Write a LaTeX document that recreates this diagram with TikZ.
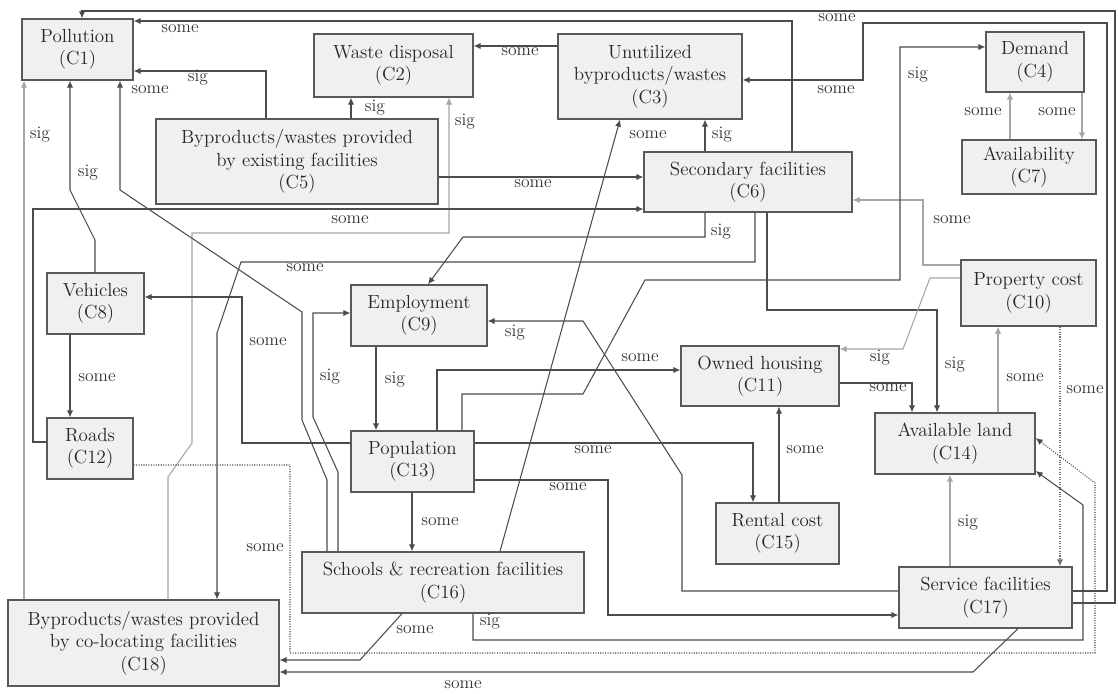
\documentclass[tikz,border=0pt]{standalone}
\usetikzlibrary{arrows.meta}

\tikzset{
  box/.style={draw=black!65, line width=0.9pt, fill=black!6, align=center,
    inner sep=0pt, font=\rmfamily\fontsize{13.5}{16}\selectfont, text=black!85},
  boxw/.style={minimum width=#1*0.025cm},
  boxh/.style={minimum height=#1*0.025cm},
  link/.style={draw=black!70, line width=0.75pt, -{Latex[length=5pt,width=4.5pt]}},
  faint/.style={link, draw=black!35},
  dotlink/.style={link, densely dotted},
  lbl/.style={font=\rmfamily\fontsize{12.5}{15}\selectfont, text=black!80, inner sep=1pt},
}

\begin{document}
\begin{tikzpicture}[x=0.025cm, y=-0.025cm]
\useasboundingbox (0,0) rectangle (1118,694);

% concept boxes
\node[box, boxw=111, boxh=61] (c1) at (77.5,49.5) {Pollution\\(C1)};
\node[box, boxw=159, boxh=63] (c2) at (393.5,65.5) {Waste disposal\\(C2)};
\node[box, boxw=184, boxh=85] (c3) at (650,76.5) {Unutilized\\byproducts/wastes\\(C3)};
\node[box, boxw=98, boxh=60] (c4) at (1035,62) {Demand\\(C4)};
\node[box, boxw=282, boxh=85] (c5) at (297,161.5) {Byproducts/wastes provided\\by existing facilities\\(C5)};
\node[box, boxw=208, boxh=60] (c6) at (748,182) {Secondary facilities\\(C6)};
\node[box, boxw=134, boxh=54] (c7) at (1029,167) {Availability\\(C7)};
\node[box, boxw=97, boxh=61] (c8) at (95.5,303.5) {Vehicles\\(C8)};
\node[box, boxw=136, boxh=61] (c9) at (419,315.5) {Employment\\(C9)};
\node[box, boxw=135, boxh=66] (c10) at (1028.5,293) {Property cost\\(C10)};
\node[box, boxw=158, boxh=60] (c11) at (760,376) {Owned housing\\(C11)};
\node[box, boxw=86, boxh=61] (c12) at (90,448.5) {Roads\\(C12)};
\node[box, boxw=123, boxh=61] (c13) at (412.5,461.5) {Population\\(C13)};
\node[box, boxw=160, boxh=61] (c14) at (955,443.5) {Available land\\(C14)};
\node[box, boxw=123, boxh=61] (c15) at (777.5,533.5) {Rental cost\\(C15)};
\node[box, boxw=282, boxh=61] (c16) at (443,582.5) {Schools \& recreation facilities\\(C16)};
\node[box, boxw=173, boxh=61] (c17) at (985.5,597.5) {Service facilities\\(C17)};
\node[box, boxw=271, boxh=86] (c18) at (143.5,643) {Byproducts/wastes provided\\by co-locating facilities\\(C18)};

% long loops round the top and the right side
\draw[link] (c17.east |- 0,603) -- (1115,603) -- (1115,11) -- (82,11) -- (c1.north -| 82,0);
\node[lbl] (l1) at (837,18) {some};
\draw[link] (c17.east |- 0,591) -- (1107,591) -- (1107,23) -- (863,23) -- (863,80) -- (c3.east |- 0,80);
\node[lbl] (l2) at (836,90) {some};
\draw[link] (c6.north -| 792,0) -- (792,21) -- (c1.east |- 0,21);
\node[lbl] (l3) at (180,29) {some};

% into pollution and waste disposal
\draw[link] (c3.west |- 0,46) -- (c2.east |- 0,46);
\node[lbl] (l4) at (520,52) {some};
\draw[link] (c5.north -| 266,0) -- (266,71) -- (c1.east |- 0,71);
\node[lbl] (l5) at (198,78) {sig};
\draw[link] (c5.north -| 351,0) -- (c2.south -| 351,0);
\node[lbl] (l6) at (375,108) {sig};
\draw[faint] (c18.north -| 168,0) -- (168,477) -- (192,443) -- (192,233) -- (449,233) -- (c2.south -| 449,0);
\node[lbl] (l7) at (465,122) {sig};
\draw[link] (c16.north -| 327,0) -- (327,480) -- (302,420) -- (302,312) -- (120,190) -- (c1.south -| 120,0);
\node[lbl] (l8) at (150,90) {some};
\draw[link] (c8.north -| 95,0) -- (95,240) -- (70,190) -- (c1.south -| 70,0);
\node[lbl] (l9) at (88,173) {sig};
\draw[faint] (c18.north -| 24,0) -- (c1.south -| 24,0);
\node[lbl] (l10) at (40,135) {sig};

% secondary facilities
\draw[link] (c12.west |- 0,442) -- (33,442) -- (33,209) -- (c6.west |- 0,209);
\node[lbl] (l11) at (350,220) {some};
\draw[link] (c5.east |- 0,177) -- (c6.west |- 0,177);
\node[lbl] (l12) at (533,184) {some};
\draw[link] (c6.south -| 705,0) -- (705,237) -- (463,237) -- (c9.north -| 428,0);
\node[lbl] (l13) at (721,232) {sig};
\draw[link] (c6.south -| 755,0) -- (755,262) -- (241,262) -- (217,333) -- (c18.north -| 217,0);
\node[lbl] (l14) at (305,268) {some};
\draw[link] (c6.north -| 705,0) -- (c3.south -| 705,0);
\node[lbl] (l15) at (722,135) {sig};
\draw[link] (c16.north -| 500,0) -- (c3.south -| 620,0);
\node[lbl] (l16) at (648,135) {some};
\draw[faint] (c10.west |- 0,265) -- (923,265) -- (923,200) -- (c6.east |- 0,200);
\node[lbl] (l17) at (952,220) {some};
\draw[link] (c6.south -| 767,0) -- (767,310) -- (937,310) -- (c14.north -| 937,0);
\node[lbl] (l18) at (955,365) {sig};

% vehicles, roads, employment, population
\draw[link] (c8.south -| 70,0) -- (c12.north -| 70,0);
\node[lbl] (l19) at (97,378) {some};
\draw[link] (c13.west |- 0,443) -- (242,443) -- (242,297) -- (c8.east |- 0,297);
\node[lbl] (l20) at (268,342) {some};
\draw[link] (c16.north -| 338,0) -- (338,472) -- (313,417) -- (313,313) -- (c9.west |- 0,313);
\node[lbl] (l21) at (330,377) {sig};
\draw[link] (c9.south -| 376,0) -- (c13.north -| 376,0);
\node[lbl] (l22) at (395,380) {sig};
\draw[link] (c17.west |- 0,591) -- (682,591) -- (682,475) -- (583,321) -- (c9.east |- 0,321);
\node[lbl] (l23) at (515,333) {sig};

% from population
\draw[link] (c13.north -| 437,0) -- (437,370) -- (c11.west |- 0,370);
\node[lbl] (l24) at (640,358) {some};
\draw[link] (c13.north -| 462,0) -- (462,394) -- (583,394) -- (645,280) -- (900,280) -- (900,47) -- (c4.west |- 0,47);
\node[lbl] (l25) at (918,75) {sig};
\draw[link] (c13.east |- 0,443) -- (753,443) -- (c15.north -| 753,0);
\node[lbl] (l26) at (593,450) {some};
\draw[link] (c15.north -| 779,0) -- (c11.south -| 779,0);
\node[lbl] (l27) at (805,450) {some};
\draw[link] (c13.east |- 0,480) -- (608,480) -- (608,615) -- (c17.west |- 0,615);
\node[lbl] (l28) at (568,487) {some};
\draw[link] (c13.south -| 412,0) -- (c16.north -| 412,0);
\node[lbl] (l29) at (440,522) {some};

% housing, land, property cost
\draw[faint] (c10.west |- 0,278) -- (930,278) -- (903,349) -- (c11.east |- 0,349);
\node[lbl] (l30) at (880,358) {sig};
\draw[link] (c11.east |- 0,383) -- (912,383) -- (c14.north -| 912,0);
\node[lbl] (l31) at (888,388) {some};
\draw[faint] (c14.north -| 998,0) -- (c10.south -| 998,0);
\node[lbl] (l32) at (1025,378) {some};
\draw[dotlink, draw=black!55] (c10.south -| 1060,0) -- (c17.north -| 1060,0);
\node[lbl] (l33) at (1085,390) {some};
\draw[faint] (c17.north -| 950,0) -- (c14.south -| 950,0);
\node[lbl] (l34) at (968,523) {sig};
\draw[faint] (c4.south -| 1082,0) -- (c7.north -| 1082,0);
\node[lbl] (l35) at (1057,112) {some};
\draw[faint] (c7.north -| 1010,0) -- (c4.south -| 1010,0);
\node[lbl] (l36) at (983,112) {some};

% bottom runs
\draw[link] (c16.south -| 473,0) -- (473,640) -- (1083,640) -- (1083,505) -- (c14.east |- 0,471);
\node[lbl] (l37) at (490,622) {sig};
\draw[dotlink] (c12.east |- 0,465) -- (290,465) -- (290,653) -- (1095,653) -- (1095,483) -- (c14.east |- 0,438);
\node[lbl] (l38) at (265,548) {some};
\draw[link] (c16.south -| 402,0) -- (360,660) -- (c18.east |- 0,660);
\node[lbl] (l39) at (415,630) {some};
\draw[link] (c17.south -| 1018,0) -- (973,672) -- (c18.east |- 0,672);
\node[lbl] (l40) at (463,685) {some};
\end{tikzpicture}
\end{document}
